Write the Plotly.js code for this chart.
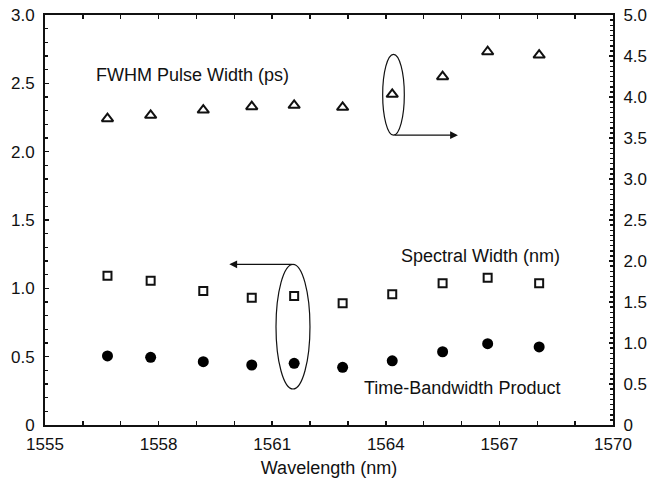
<!DOCTYPE html>
<html>
<head>
<meta charset="utf-8">
<script src="https://cdn.plot.ly/plotly-3.0.1.min.js"></script>
<style>html,body{margin:0;padding:0;background:#fff;}#chart{width:650px;height:482px;}</style>
</head>
<body>
<div id="chart"></div>
<script>
var wavelength = [1556.65, 1557.79, 1559.18, 1560.46, 1561.58, 1562.86, 1564.17, 1565.50, 1566.69, 1568.05];
var pulseWidth = [3.735, 3.777, 3.841, 3.882, 3.899, 3.874, 4.033, 4.248, 4.552, 4.512];
var spectralWidth = [1.092, 1.056, 0.980, 0.931, 0.944, 0.890, 0.956, 1.037, 1.078, 1.037];
var tbp = [0.505, 0.495, 0.463, 0.439, 0.451, 0.422, 0.470, 0.536, 0.595, 0.571];
var xTicks = [1555, 1558, 1561, 1564, 1567, 1570];
var yLeftTicks = [0, 0.5, 1.0, 1.5, 2.0, 2.5, 3.0];
var yLeftText = ['0', '0.5', '1.0', '1.5', '2.0', '2.5', '3.0'];
var yRightTicks = [0, 0.5, 1.0, 1.5, 2.0, 2.5, 3.0, 3.5, 4.0, 4.5, 5.0];
var yRightText = ['0', '0.5', '1.0', '1.5', '2.0', '2.5', '3.0', '3.5', '4.0', '4.5', '5.0'];

var font = 'Liberation Sans, Arial, Helvetica, sans-serif';

var traces = [
  {x: wavelength, y: pulseWidth, yaxis: 'y2', mode: 'markers', type: 'scatter',
   marker: {symbol: 'triangle-up-open', size: 10, color: '#111', line: {width: 2, color: '#111'}}},
  {x: wavelength, y: spectralWidth, mode: 'markers', type: 'scatter',
   marker: {symbol: 'square-open', size: 8, color: '#111', line: {width: 2, color: '#111'}}},
  {x: wavelength, y: tbp, mode: 'markers', type: 'scatter',
   marker: {symbol: 'circle', size: 11, color: '#000'}}
];

var layout = {
  width: 650, height: 482,
  margin: {l: 45, r: 37, t: 15, b: 57},
  paper_bgcolor: '#fff', plot_bgcolor: '#fff',
  showlegend: false,
  font: {family: font, size: 17, color: '#111'},
  xaxis: {
    range: [1555, 1570], tickvals: xTicks, ticks: 'inside', ticklen: 4, tickwidth: 1.5, tickcolor: '#111',
    minor: {dtick: 1, ticks: 'inside', ticklen: 4, tickwidth: 1.5, tickcolor: '#111'},
    showline: true, linewidth: 2, linecolor: '#111', mirror: 'ticks', showgrid: false, zeroline: false,
    title: {text: 'Wavelength (nm)', font: {size: 18}, standoff: 8},
    ticklabelstandoff: 3,
    tickfont: {size: 17}
  },
  yaxis: {
    range: [0, 3], tickvals: yLeftTicks, ticktext: yLeftText, ticks: 'inside', ticklen: 4, tickwidth: 1.5, tickcolor: '#111',
    minor: {dtick: 0.1, ticks: 'inside', ticklen: 3, tickwidth: 1.5, tickcolor: '#111'},
    showline: true, linewidth: 2, linecolor: '#111', showgrid: false, zeroline: false,
    ticklabelstandoff: 5, tickfont: {size: 17}
  },
  yaxis2: {
    range: [0, 5], overlaying: 'y', side: 'right', tickvals: yRightTicks, ticktext: yRightText,
    ticks: 'inside', ticklen: 4, tickwidth: 1.5, tickcolor: '#111',
    minor: {dtick: 0.0625, ticks: 'inside', ticklen: 3, tickwidth: 1.5, tickcolor: '#111'},
    showline: true, linewidth: 2, linecolor: '#111', showgrid: false, zeroline: false,
    ticklabelstandoff: 5, tickfont: {size: 17}
  },
  shapes: [
    {type: 'circle', xref: 'paper', yref: 'paper', x0: 0.5945, x1: 0.6326, y0: 0.707, y1: 0.904,
     line: {color: '#111', width: 1.2}},
    {type: 'circle', xref: 'paper', yref: 'paper', x0: 0.4067, x1: 0.4665, y0: 0.0878, y1: 0.392,
     line: {color: '#111', width: 1.2}}
  ],
  annotations: [
    {text: 'FWHM Pulse Width (ps)', xref: 'paper', yref: 'paper', x: (94 - 45) / 568, y: (425 - 75) / 410,
     xanchor: 'left', yanchor: 'middle', showarrow: false, font: {size: 18, color: '#111'}},
    {text: 'Spectral Width (nm)', xref: 'paper', yref: 'paper', x: (562 - 45) / 568, y: (425 - 256) / 410,
     xanchor: 'right', yanchor: 'middle', showarrow: false, font: {size: 18, color: '#111'}},
    {text: 'Time-Bandwidth Product', xref: 'paper', yref: 'paper', x: (562 - 45) / 568, y: (425 - 388) / 410,
     xanchor: 'right', yanchor: 'middle', showarrow: false, font: {size: 18, color: '#111'}},
    {text: '', xref: 'paper', yref: 'paper', x: 0.727, y: 0.707, ax: -65, ay: 0,
     showarrow: true, arrowhead: 2, arrowsize: 1.3, arrowwidth: 1.2, arrowcolor: '#111'},
    {text: '', xref: 'paper', yref: 'paper', x: 0.3245, y: 0.392, ax: 64, ay: 0,
     showarrow: true, arrowhead: 2, arrowsize: 1.3, arrowwidth: 1.2, arrowcolor: '#111'}
  ]
};

Plotly.newPlot('chart', traces, layout, {staticPlot: true, displayModeBar: false});
</script>
</body>
</html>
